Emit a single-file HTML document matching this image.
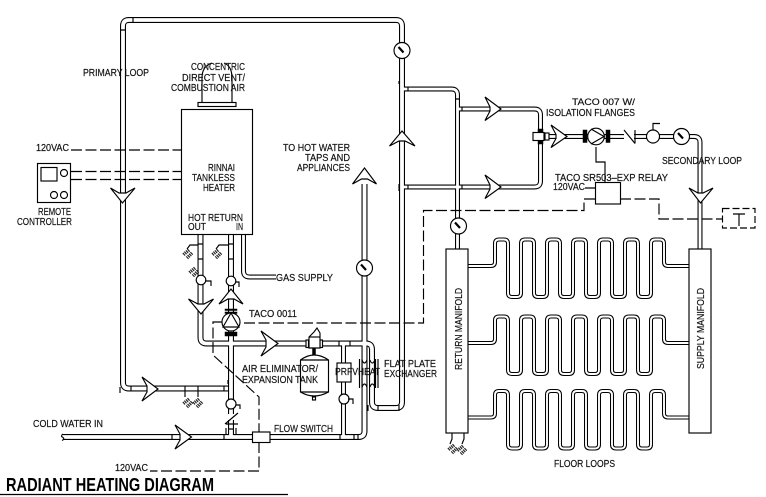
<!DOCTYPE html>
<html lang="en">
<head>
<meta charset="utf-8">
<title>Radiant Heating Diagram</title>
<style>
html,body{margin:0;padding:0;background:#fff;width:766px;height:497px;overflow:hidden}
svg{display:block}
text{font-family:"Liberation Sans",sans-serif;font-size:10px;fill:#111;stroke:#111;stroke-width:.18}
.l{fill:none;stroke:#000;stroke-width:1.15}
.w{fill:#fff;stroke:#000;stroke-width:1.15}
.d{fill:none;stroke:#000;stroke-width:1.15;stroke-dasharray:11 3.5}
.b{fill:#000;stroke:#000;stroke-width:.5}
</style>
</head>
<body>
<svg width="766" height="497" viewBox="0 0 766 497" xmlns="http://www.w3.org/2000/svg">
<defs>
<g id="main">
<path d="M228 388.5H129Q123 388.5 123 382.5V26Q123 20 129 20H396Q402 20 402 26V402Q402 408 396 408H378Q372 408 372 402V349.5Q372 343.5 366 343.5H206.5Q200.5 343.5 200.5 337.5V234"/>
<path d="M231 234V437"/>
<path d="M63 437H358.5Q364.5 437 364.5 431V184"/>
</g>
<g id="thin">
<path d="M402 89H451.5Q457.5 89 457.5 95V249"/>
<path d="M402 187H534.5Q540.5 187 540.5 181V115Q540.5 109 534.5 109H457.5"/>
<path d="M546 136.5H694Q700 136.5 700 142.5V249"/>
<path d="M243.5 234V271Q243.5 277 249.5 277H276"/>
<path d="M343.5 343.5V437"/>
</g>
<path id="loop" d="M468 266H491Q495 266 495 262V243.5Q495 239.5 499 239.5H504Q508 239.5 508 243.5V293Q508 297 512 297H517Q521 297 521 293V243.5Q521 239.5 525 239.5H530Q534 239.5 534 243.5V293Q534 297 538 297H543Q547 297 547 293V243.5Q547 239.5 551 239.5H556Q560 239.5 560 243.5V293Q560 297 564 297H569Q573 297 573 293V243.5Q573 239.5 577 239.5H582Q586 239.5 586 243.5V293Q586 297 590 297H595Q599 297 599 293V243.5Q599 239.5 603 239.5H608Q612 239.5 612 243.5V293Q612 297 616 297H621Q625 297 625 293V243.5Q625 239.5 629 239.5H634Q638 239.5 638 243.5V293Q638 297 642 297H647Q651 297 651 293V243.5Q651 239.5 655 239.5H660Q664 239.5 664 243.5V262Q664 266 668 266H689"/>
<g id="dr"><path d="M0 0L-6 5" fill="none" stroke="#222" stroke-width="3.4" stroke-dasharray="1.2 .8"/><path d="M3 3L-2 8" fill="none" stroke="#222" stroke-width="3.4" stroke-dasharray="1.2 .8"/></g>
<g id="gauge"><circle r="8" class="w"/><path d="M-3.5-3.5L1.5 2" stroke="#000" stroke-width="2.2"/></g>
</defs>

<!-- pipes -->
<g fill="none" stroke="#000" stroke-width="6"><use href="#main"/></g>
<g fill="none" stroke="#000" stroke-width="5"><use href="#thin"/></g>
<g fill="none" stroke="#fff" stroke-width="3.8"><use href="#main"/></g>
<g fill="none" stroke="#fff" stroke-width="2.8"><use href="#thin"/></g>

<!-- floor loops -->
<g fill="none" stroke="#000" stroke-width="4"><use href="#loop"/><use href="#loop" y="77"/><use href="#loop" y="151.5"/></g>
<g fill="none" stroke="#fff" stroke-width="1.9"><use href="#loop"/><use href="#loop" y="77"/><use href="#loop" y="151.5"/></g>

<!-- joint ticks -->
<path class="l" d="M120 30H126M133 17V23M120 393V387M131 386V391M185 386V391M198 386V391M224 386V391M228 384V380M198 259H203M228 259H234M198 244H203M228 244H234M172 434V440M224 434V440M228 429H234M268 434V440M340 434V440M354 434V440M358 434V440M399 81V84M399 184V191M408 87V91M408 185V189M455 99H460M462 107V111M462 185V189M350 341V346M339 341V346M399 405V411M378 405V411M368 405V411"/>
<path d="M63 434Q60 436 63 437.5Q65 439 62 440.5" class="l"/>

<!-- manifolds -->
<rect x="446" y="249" width="22" height="184" class="w"/>
<rect x="689" y="249" width="22" height="184" class="w"/>

<!-- heater -->
<path class="l" d="M202 102V78Q202 66 212 63M232 102V78Q232 66 224 63"/>
<rect x="198" y="102.5" width="38" height="4" class="w"/>
<rect x="181.5" y="109.5" width="71" height="125" class="w"/>

<!-- remote -->
<rect x="37.5" y="163.5" width="33" height="39" class="w"/>
<rect x="41" y="167.5" width="16" height="13.5" class="l"/>
<circle cx="64" cy="173" r="3.5" class="l"/><circle cx="54" cy="195" r="3.5" class="l"/><circle cx="64" cy="195" r="3.5" class="l"/>
<path class="d" d="M71 150H181M71 171.5H181M71 179.5H181"/>

<!-- control dashed -->
<path class="d" d="M595 199H584V210.5H423.5V323H240"/>
<path class="d" d="M222 322H213V355L259 397V432M259 442V471H150"/>
<path class="d" d="M620 199H659V219H722"/>
<rect x="722.5" y="208.5" width="32.5" height="19.5" class="d" style="stroke-dasharray:7 3"/>
<path class="l" d="M733 214H745M739 214V226"/>
<path class="l" d="M596 147V162H605V182M585 188H595"/>
<rect x="595.5" y="182.5" width="25" height="21.5" class="w"/>

<!-- gauges -->
<use href="#gauge" x="402" y="50.5"/>
<use href="#gauge" x="458.5" y="226"/>
<use href="#gauge" x="364.5" y="268"/>
<use href="#gauge" x="681.5" y="136.5"/>

<!-- secondary items -->
<rect x="533" y="132.5" width="11" height="8" class="w"/>
<rect x="538" y="129" width="5" height="3" class="b"/><rect x="538" y="141" width="5" height="3" class="b"/>
<rect x="545" y="133" width="4" height="7" class="w"/>
<rect x="583" y="130" width="4" height="12.5" class="b"/><rect x="606" y="130" width="4" height="12.5" class="b"/>
<circle cx="596" cy="136.5" r="8.3" class="w"/><path class="l" d="M591 129L604 136.5L591 144"/>
<rect x="624" y="133.5" width="10" height="6" fill="#fff"/>
<path class="l" d="M624 130L635 143.5M635 130V143.5"/>
<circle cx="653" cy="136.5" r="6.5" class="w"/><path class="l" d="M653 130V123.5H660"/>

<!-- primary side valves -->
<circle cx="201" cy="280" r="4.8" class="w"/><path class="l" d="M205 281H211V286"/>
<circle cx="231" cy="281" r="4.8" class="w"/><path class="l" d="M235 282H239V287"/>
<circle cx="231" cy="404" r="5" class="w"/><path class="l" d="M236 405H240V409"/>
<rect x="228" y="414" width="6" height="6" fill="#fff"/>
<path class="l" d="M225 424L238 413M226 424H238M226 428V434M236 428V434"/>

<!-- pump 0011 -->
<rect x="225" y="309" width="12" height="1.5" class="b"/><rect x="225" y="312" width="12" height="1.5" class="b"/>
<rect x="225" y="332" width="12" height="4" class="b"/>
<circle cx="231" cy="322" r="9" class="w"/><path class="l" d="M231 313L223 327H239Z"/>

<!-- air eliminator + tank -->
<rect x="306" y="340" width="2.5" height="7.5" class="w"/><rect x="320" y="340" width="2.5" height="7.5" class="w"/>
<path class="w" d="M309 337L314 332L317 328L320 333V348H309Z"/>
<path class="l" d="M309 337H320"/>
<rect x="312.5" y="348" width="3" height="7" class="b"/>
<path class="w" d="M300.5 360Q314 350 328.5 360V392Q314 400 300.5 392Z"/>
<path class="l" d="M300.5 360H328.5M300.5 392H328.5"/>
<rect x="312.5" y="397" width="3" height="3" class="w"/>

<!-- PRFV + exchanger -->
<rect x="337" y="363" width="14" height="19" class="w"/>
<circle cx="344" cy="399" r="5" class="w"/><path class="l" d="M348 399H353V404"/>
<path class="l" d="M359.5 359V388M362 359V388M375.5 359V388M378 359V388M362 360Q364.5 366 367 360M370 360Q372 366 375 360M362 387Q364.5 381 367 387M370 387Q372 381 375 387"/>

<!-- flow switch -->
<rect x="252.5" y="432" width="17.5" height="10.5" class="w"/>

<!-- drains -->
<path class="l" d="M198 245H190L187 249M228 245H219L216 249M452 433V439L450 444M464 433V439L462 444M185 391V397M198 391V397"/>
<use href="#dr" x="189" y="250"/>
<use href="#dr" x="218" y="250"/>
<use href="#dr" x="195" y="268"/>
<use href="#dr" x="189" y="399"/>
<use href="#dr" x="199" y="399"/>
<use href="#dr" x="454" y="445"/>
<use href="#dr" x="463" y="446"/>

<!-- arrowheads -->
<polygon class="w" points="110.5,188 122.5,203 135,188 126,193 119,193"/>
<polygon class="w" points="142,377 158,389 142,401 147,392 147,386"/>
<polygon class="w" points="175,425 191.5,437 175,449 180,440 180,434"/>
<polygon class="w" points="188.5,299 201,314 213.5,299 204,304 198,304"/>
<polygon class="w" points="219,304 231,289 243,304 234,299 228,299"/>
<polygon class="w" points="261,331 278,343.5 261,356 266,347 266,340"/>
<polygon class="w" points="352.5,184 364.5,168 376.5,184 367.5,179 361.5,179"/>
<polygon class="w" points="389.5,146 402,131 415,146 405,141 399,141"/>
<polygon class="w" points="485,97 501,109 485,120.5 490,111 490,107"/>
<polygon class="w" points="485,175 501,187 485,198.5 490,189 490,185"/>
<polygon class="w" points="551,125 567,136.5 551,147.5 556,138.5 556,134.5"/>
<polygon class="w" points="689,188 700.5,203 713,188 703,193 698,193"/>

<!-- labels -->
<text x="83" y="76" textLength="66" lengthAdjust="spacingAndGlyphs">PRIMARY LOOP</text>
<text x="191" y="70" textLength="54" lengthAdjust="spacingAndGlyphs">CONCENTRIC</text>
<text x="182" y="81" textLength="63" lengthAdjust="spacingAndGlyphs">DIRECT VENT/</text>
<text x="171" y="91" textLength="74" lengthAdjust="spacingAndGlyphs">COMBUSTION AIR</text>
<text x="36" y="151" textLength="33" lengthAdjust="spacingAndGlyphs">120VAC</text>
<text x="208" y="171" textLength="27" lengthAdjust="spacingAndGlyphs">RINNAI</text>
<text x="192" y="181" textLength="43" lengthAdjust="spacingAndGlyphs">TANKLESS</text>
<text x="203" y="191" textLength="32" lengthAdjust="spacingAndGlyphs">HEATER</text>
<text x="38" y="215" textLength="33" lengthAdjust="spacingAndGlyphs">REMOTE</text>
<text x="17" y="225" textLength="55" lengthAdjust="spacingAndGlyphs">CONTROLLER</text>
<text x="188" y="221" textLength="55" lengthAdjust="spacingAndGlyphs">HOT RETURN</text>
<text x="188" y="230" textLength="18" lengthAdjust="spacingAndGlyphs">OUT</text>
<text x="236" y="230" textLength="7" lengthAdjust="spacingAndGlyphs">IN</text>
<text x="283" y="151" textLength="67" lengthAdjust="spacingAndGlyphs">TO HOT WATER</text>
<text x="305" y="161" textLength="45" lengthAdjust="spacingAndGlyphs">TAPS AND</text>
<text x="297" y="171" textLength="53" lengthAdjust="spacingAndGlyphs">APPLIANCES</text>
<text x="276" y="281" textLength="57" lengthAdjust="spacingAndGlyphs">GAS SUPPLY</text>
<text x="249" y="317" textLength="48" lengthAdjust="spacingAndGlyphs">TACO 0011</text>
<text x="242" y="372" textLength="76" lengthAdjust="spacingAndGlyphs">AIR ELIMINATOR/</text>
<text x="242" y="383" textLength="76" lengthAdjust="spacingAndGlyphs">EXPANSION TANK</text>
<text x="274" y="432" textLength="59" lengthAdjust="spacingAndGlyphs">FLOW SWITCH</text>
<text x="335" y="375" textLength="23" lengthAdjust="spacingAndGlyphs">PRFV</text>
<text x="358" y="375" textLength="22" lengthAdjust="spacingAndGlyphs">HEAT</text>
<text x="384" y="367" textLength="52" lengthAdjust="spacingAndGlyphs">FLAT PLATE</text>
<text x="384" y="377" textLength="53" lengthAdjust="spacingAndGlyphs">EXCHANGER</text>
<text x="33" y="427" textLength="70" lengthAdjust="spacingAndGlyphs">COLD WATER IN</text>
<text x="115" y="471" textLength="33" lengthAdjust="spacingAndGlyphs">120VAC</text>
<text x="572" y="105" textLength="63" lengthAdjust="spacingAndGlyphs" style="font-size:9px">TACO 007 W/</text>
<text x="546" y="116" textLength="89" lengthAdjust="spacingAndGlyphs">ISOLATION FLANGES</text>
<text x="662" y="164" textLength="80" lengthAdjust="spacingAndGlyphs">SECONDARY LOOP</text>
<text x="555" y="181" textLength="113" lengthAdjust="spacingAndGlyphs">TACO SR503&#8211;EXP RELAY</text>
<text x="553" y="190" textLength="32" lengthAdjust="spacingAndGlyphs">120VAC</text>
<text x="554" y="467" textLength="61" lengthAdjust="spacingAndGlyphs">FLOOR LOOPS</text>
<text transform="translate(462 370) rotate(-90)" textLength="82" lengthAdjust="spacingAndGlyphs">RETURN MANIFOLD</text>
<text transform="translate(704 369) rotate(-90)" textLength="81" lengthAdjust="spacingAndGlyphs">SUPPLY MANIFOLD</text>
<text x="6" y="491" textLength="208" lengthAdjust="spacingAndGlyphs" style="font-size:18.5px;font-weight:bold;fill:#000;stroke:none">RADIANT HEATING DIAGRAM</text>
<path d="M0 494.5H288" stroke="#000" stroke-width="1.15"/>
</svg>
</body>
</html>
